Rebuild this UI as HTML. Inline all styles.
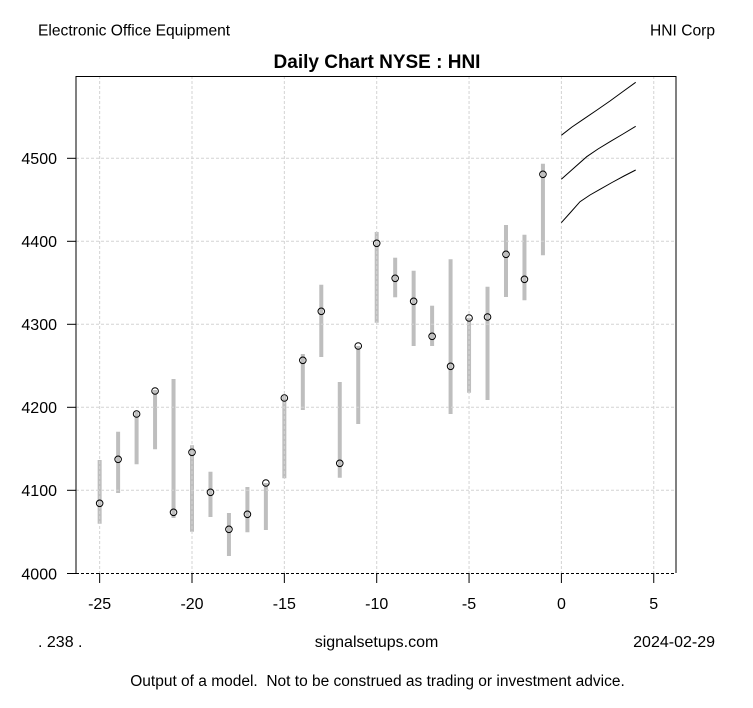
<!DOCTYPE html>
<html><head><meta charset="utf-8"><style>
html,body{margin:0;padding:0;background:#fff;}
svg{display:block;}
text{font-family:"Liberation Sans",Arial,sans-serif;fill:#000;}
</style></head><body>
<svg width="753" height="708" viewBox="0 0 753 708" xmlns="http://www.w3.org/2000/svg">
<rect width="753" height="708" fill="#fff"/>
<!-- bars -->
<g stroke="#bebebe" stroke-width="4">
<line x1="99.65" y1="460" x2="99.65" y2="523.7"/>
<line x1="118.12" y1="431.7" x2="118.12" y2="493"/>
<line x1="136.59" y1="412" x2="136.59" y2="464.3"/>
<line x1="155.06" y1="390" x2="155.06" y2="449.3"/>
<line x1="173.53" y1="379" x2="173.53" y2="518"/>
<line x1="192" y1="445.3" x2="192" y2="531.7"/>
<line x1="210.47" y1="471.7" x2="210.47" y2="517"/>
<line x1="228.94" y1="513" x2="228.94" y2="556"/>
<line x1="247.41" y1="487" x2="247.41" y2="532.3"/>
<line x1="265.88" y1="483" x2="265.88" y2="530"/>
<line x1="284.35" y1="396" x2="284.35" y2="478.3"/>
<line x1="302.82" y1="354" x2="302.82" y2="410"/>
<line x1="321.29" y1="284.7" x2="321.29" y2="357"/>
<line x1="339.76" y1="382" x2="339.76" y2="477.7"/>
<line x1="358.23" y1="346" x2="358.23" y2="424"/>
<line x1="376.7" y1="232" x2="376.7" y2="322.7"/>
<line x1="395.17" y1="257.7" x2="395.17" y2="297.3"/>
<line x1="413.64" y1="270.7" x2="413.64" y2="346"/>
<line x1="432.11" y1="305.7" x2="432.11" y2="346"/>
<line x1="450.58" y1="259.3" x2="450.58" y2="414"/>
<line x1="469.05" y1="318" x2="469.05" y2="392.7"/>
<line x1="487.52" y1="286.7" x2="487.52" y2="400"/>
<line x1="505.99" y1="225" x2="505.99" y2="297"/>
<line x1="524.46" y1="234.7" x2="524.46" y2="300.3"/>
<line x1="542.93" y1="163.7" x2="542.93" y2="255.3"/>
</g>
<!-- grid -->
<g stroke="#d3d3d3" stroke-width="1" stroke-dasharray="3,2" fill="none">
<line x1="99.65" y1="76" x2="99.65" y2="573"/>
<line x1="192" y1="76" x2="192" y2="573"/>
<line x1="284.35" y1="76" x2="284.35" y2="573"/>
<line x1="376.7" y1="76" x2="376.7" y2="573"/>
<line x1="469.05" y1="76" x2="469.05" y2="573"/>
<line x1="561.4" y1="76" x2="561.4" y2="573"/>
<line x1="653.75" y1="76" x2="653.75" y2="573"/>
<line x1="76" y1="490.3" x2="676" y2="490.3"/>
<line x1="76" y1="407.3" x2="676" y2="407.3"/>
<line x1="76" y1="324.3" x2="676" y2="324.3"/>
<line x1="76" y1="241.3" x2="676" y2="241.3"/>
<line x1="76" y1="158.3" x2="676" y2="158.3"/>
</g>
<!-- box -->
<g stroke="#000" stroke-width="1" fill="none">
<polyline points="76,573 76,76.5 676,76.5 676,573"/>
<line x1="76" y1="573.5" x2="676" y2="573.5" stroke-dasharray="3,2"/>
</g>
<!-- ticks -->
<g stroke="#000" stroke-width="1">
<line x1="67" y1="573.5" x2="76" y2="573.5"/>
<line x1="67" y1="490.3" x2="76" y2="490.3"/>
<line x1="67" y1="407.3" x2="76" y2="407.3"/>
<line x1="67" y1="324.3" x2="76" y2="324.3"/>
<line x1="67" y1="241.3" x2="76" y2="241.3"/>
<line x1="67" y1="158.3" x2="76" y2="158.3"/>
<line x1="99.65" y1="573" x2="99.65" y2="583"/>
<line x1="192" y1="573" x2="192" y2="583"/>
<line x1="284.35" y1="573" x2="284.35" y2="583"/>
<line x1="376.7" y1="573" x2="376.7" y2="583"/>
<line x1="469.05" y1="573" x2="469.05" y2="583"/>
<line x1="561.4" y1="573" x2="561.4" y2="583"/>
<line x1="653.75" y1="573" x2="653.75" y2="583"/>
</g>
<!-- y labels -->
<g font-size="16" text-anchor="end">
<text x="57" y="579.5">4000</text>
<text x="57" y="496">4100</text>
<text x="57" y="413">4200</text>
<text x="57" y="330">4300</text>
<text x="57" y="247">4400</text>
<text x="57" y="164">4500</text>
</g>
<!-- x labels -->
<g font-size="16" text-anchor="middle">
<text x="99.65" y="609">-25</text>
<text x="192" y="609">-20</text>
<text x="284.35" y="609">-15</text>
<text x="376.7" y="609">-10</text>
<text x="469.05" y="609">-5</text>
<text x="561.4" y="609">0</text>
<text x="653.75" y="609">5</text>
</g>
<!-- points -->
<g stroke="#000" stroke-width="1" fill="none">
<circle cx="99.65" cy="503.3" r="3.3"/>
<circle cx="118.12" cy="459.3" r="3.3"/>
<circle cx="136.59" cy="414" r="3.3"/>
<circle cx="155.06" cy="391" r="3.3"/>
<circle cx="173.53" cy="512.3" r="3.3"/>
<circle cx="192" cy="452.3" r="3.3"/>
<circle cx="210.47" cy="492.3" r="3.3"/>
<circle cx="228.94" cy="529.3" r="3.3"/>
<circle cx="247.41" cy="514.3" r="3.3"/>
<circle cx="265.88" cy="483" r="3.3"/>
<circle cx="284.35" cy="398" r="3.3"/>
<circle cx="302.82" cy="360.3" r="3.3"/>
<circle cx="321.29" cy="311.3" r="3.3"/>
<circle cx="339.76" cy="463.3" r="3.3"/>
<circle cx="358.23" cy="346" r="3.3"/>
<circle cx="376.7" cy="243.3" r="3.3"/>
<circle cx="395.17" cy="278.3" r="3.3"/>
<circle cx="413.64" cy="301.3" r="3.3"/>
<circle cx="432.11" cy="336.3" r="3.3"/>
<circle cx="450.58" cy="366.3" r="3.3"/>
<circle cx="469.05" cy="318" r="3.3"/>
<circle cx="487.52" cy="317" r="3.3"/>
<circle cx="505.99" cy="254.3" r="3.3"/>
<circle cx="524.46" cy="279.3" r="3.3"/>
<circle cx="542.93" cy="174.3" r="3.3"/>
</g>
<!-- forecast lines -->
<g stroke="#000" stroke-width="1" fill="none">
<polyline points="561.3,135.3 572,127 583.3,119.3 597,110 610,101 623,91.5 635.7,82.3"/>
<polyline points="561.3,179.3 571.7,170 586.7,156.7 598,149 610,141.7 623,134 635.7,126.3"/>
<polyline points="561.3,222.7 570,213 580,201.7 590,195 600,189.3 612,182.5 624,176 635.7,170"/>
</g>
<!-- texts -->
<text x="38" y="35.5" font-size="15.6">Electronic Office Equipment</text>
<text x="715" y="35.5" font-size="15.6" text-anchor="end">HNI Corp</text>
<text x="377" y="68" font-size="19" font-weight="bold" text-anchor="middle">Daily Chart NYSE : HNI</text>
<text x="38" y="647" font-size="16">. 238 .</text>
<text x="376.5" y="647" font-size="16" text-anchor="middle">signalsetups.com</text>
<text x="715" y="647" font-size="16" text-anchor="end">2024-02-29</text>
<text x="377.5" y="686" font-size="15.5" text-anchor="middle" xml:space="preserve">Output of a model.  Not to be construed as trading or investment advice.</text>
</svg>
</body></html>
